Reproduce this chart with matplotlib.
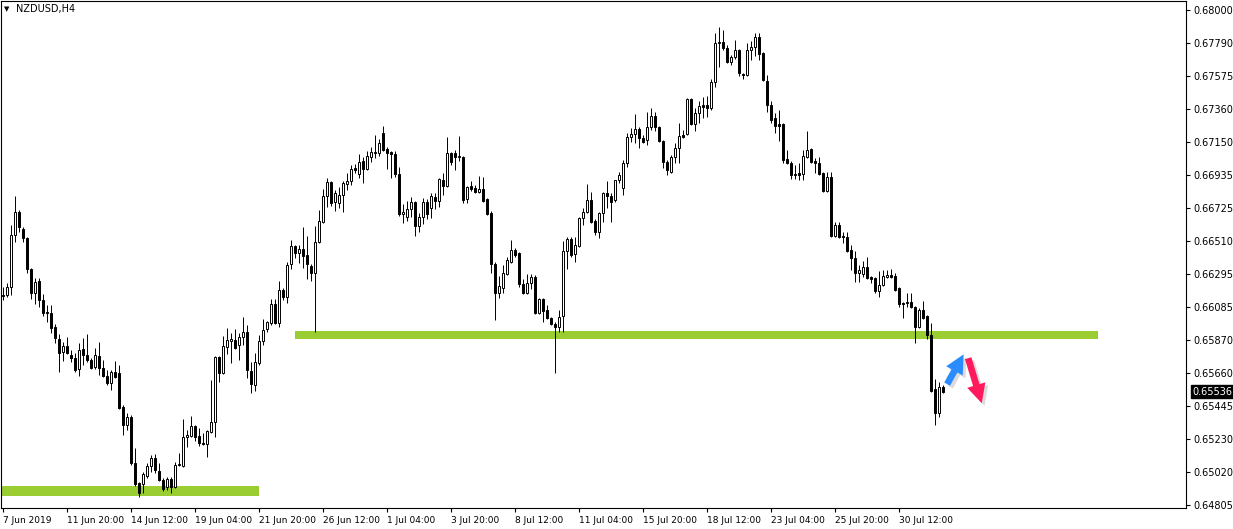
import matplotlib
matplotlib.use("Agg")
import matplotlib.pyplot as plt
import matplotlib.patheffects as pe
from matplotlib.patches import Rectangle, FancyArrowPatch
import numpy as np

symbol = "NZDUSD,H4"

opens = [
    0.66161, 0.66161, 0.66212, 0.66548, 0.66696, 0.66587, 0.66528, 0.66328, 0.66174, 0.66251,
    0.66128, 0.66051, 0.66044, 0.65954, 0.65877, 0.65793, 0.65831, 0.65773, 0.65754, 0.65683,
    0.65812, 0.65773, 0.65741, 0.65696, 0.65767, 0.65689, 0.65638, 0.65593, 0.65664, 0.65657,
    0.65438, 0.65322, 0.65373, 0.65076, 0.64947, 0.64941, 0.64992, 0.65057, 0.65109, 0.65025,
    0.64967, 0.64921, 0.64973, 0.64921, 0.65063, 0.65057, 0.65244, 0.65251, 0.65315, 0.65251,
    0.65205, 0.65199, 0.65276, 0.65341, 0.65760, 0.65657, 0.65825, 0.65864, 0.65870, 0.65838,
    0.65890, 0.65922, 0.65670, 0.65580, 0.65722, 0.65864, 0.65941, 0.65980, 0.66103, 0.65980,
    0.66193, 0.66148, 0.66361, 0.66477, 0.66432, 0.66457, 0.66419, 0.66348, 0.66303, 0.66503,
    0.66632, 0.66800, 0.66890, 0.66761, 0.66754, 0.66806, 0.66877, 0.66896, 0.66980, 0.66942,
    0.67025, 0.66974, 0.67051, 0.67077, 0.67077, 0.67206, 0.67103, 0.67084, 0.67071, 0.66942,
    0.66683, 0.66664, 0.66716, 0.66761, 0.66606, 0.66664, 0.66761, 0.66722, 0.66793, 0.66767,
    0.66903, 0.66864, 0.67077, 0.67077, 0.67051, 0.67051, 0.66780, 0.66864, 0.66851, 0.66825,
    0.66845, 0.66780, 0.66690, 0.66361, 0.66174, 0.66206, 0.66296, 0.66374, 0.66451, 0.66432,
    0.66232, 0.66174, 0.66238, 0.66277, 0.66044, 0.66135, 0.66064, 0.66012, 0.65973, 0.65954,
    0.66025, 0.66445, 0.66522, 0.66425, 0.66477, 0.66658, 0.66696, 0.66774, 0.66638, 0.66567,
    0.66690, 0.66819, 0.66800, 0.66774, 0.66903, 0.66851, 0.67013, 0.67180, 0.67200, 0.67232,
    0.67174, 0.67161, 0.67245, 0.67316, 0.67245, 0.67155, 0.67019, 0.66954, 0.67051, 0.67109,
    0.67193, 0.67200, 0.67426, 0.67264, 0.67335, 0.67387, 0.67387, 0.67368, 0.67535, 0.67787,
    0.67793, 0.67755, 0.67664, 0.67697, 0.67742, 0.67587, 0.67580, 0.67742, 0.67761, 0.67826,
    0.67722, 0.67542, 0.67387, 0.67303, 0.67264, 0.67264, 0.67038, 0.67013, 0.66942, 0.66948,
    0.66942, 0.67051, 0.67103, 0.67025, 0.67013, 0.66948, 0.66832, 0.66922, 0.66541, 0.66612,
    0.66541, 0.66535, 0.66451, 0.66399, 0.66303, 0.66296, 0.66341, 0.66277, 0.66270, 0.66186,
    0.66225, 0.66277, 0.66290, 0.66283, 0.66206, 0.66109, 0.66115, 0.66115, 0.66083, 0.65954,
    0.66064, 0.66025, 0.65902, 0.65554, 0.65399, 0.65567,
]

highs = [
    0.66212, 0.66238, 0.66612, 0.66800, 0.66709, 0.66599, 0.66535, 0.66335, 0.66270, 0.66270,
    0.66167, 0.66096, 0.66096, 0.65973, 0.65909, 0.65857, 0.65890, 0.65806, 0.65786, 0.65851,
    0.65883, 0.65909, 0.65754, 0.65818, 0.65857, 0.65741, 0.65677, 0.65677, 0.65735, 0.65709,
    0.65451, 0.65399, 0.65386, 0.65173, 0.64954, 0.65018, 0.65076, 0.65128, 0.65134, 0.65076,
    0.64979, 0.64986, 0.64986, 0.65083, 0.65141, 0.65360, 0.65289, 0.65380, 0.65322, 0.65302,
    0.65270, 0.65289, 0.65612, 0.65767, 0.65767, 0.65896, 0.65948, 0.65915, 0.65941, 0.65915,
    0.66019, 0.65967, 0.65728, 0.65786, 0.65902, 0.66006, 0.65993, 0.66135, 0.66135, 0.66251,
    0.66206, 0.66374, 0.66516, 0.66483, 0.66483, 0.66599, 0.66541, 0.66361, 0.66606, 0.66709,
    0.66845, 0.66916, 0.66896, 0.66838, 0.66858, 0.66896, 0.66948, 0.67000, 0.67006, 0.67071,
    0.67051, 0.67090, 0.67116, 0.67193, 0.67167, 0.67251, 0.67116, 0.67090, 0.67090, 0.66987,
    0.66748, 0.66767, 0.66793, 0.66767, 0.66690, 0.66787, 0.66780, 0.66819, 0.66819, 0.66916,
    0.66948, 0.67180, 0.67084, 0.67096, 0.67187, 0.67058, 0.66864, 0.66896, 0.66871, 0.66929,
    0.66922, 0.66787, 0.66703, 0.66374, 0.66283, 0.66354, 0.66406, 0.66516, 0.66464, 0.66438,
    0.66264, 0.66296, 0.66296, 0.66290, 0.66141, 0.66141, 0.66096, 0.66019, 0.65986, 0.66064,
    0.66509, 0.66535, 0.66535, 0.66535, 0.66664, 0.66722, 0.66877, 0.66825, 0.66651, 0.66696,
    0.66825, 0.66896, 0.66819, 0.66903, 0.66954, 0.67032, 0.67206, 0.67238, 0.67329, 0.67245,
    0.67193, 0.67342, 0.67368, 0.67342, 0.67251, 0.67161, 0.67032, 0.67064, 0.67142, 0.67271,
    0.67226, 0.67432, 0.67432, 0.67368, 0.67413, 0.67438, 0.67445, 0.67555, 0.67852, 0.67890,
    0.67871, 0.67774, 0.67710, 0.67806, 0.67748, 0.67593, 0.67787, 0.67800, 0.67852, 0.67852,
    0.67729, 0.67580, 0.67413, 0.67335, 0.67355, 0.67271, 0.67096, 0.67025, 0.67000, 0.67013,
    0.67096, 0.67219, 0.67109, 0.67045, 0.67051, 0.66954, 0.66954, 0.66954, 0.66632, 0.66632,
    0.66567, 0.66567, 0.66483, 0.66445, 0.66354, 0.66380, 0.66406, 0.66283, 0.66277, 0.66315,
    0.66322, 0.66322, 0.66328, 0.66303, 0.66212, 0.66115, 0.66174, 0.66174, 0.66090, 0.66077,
    0.66122, 0.66032, 0.65980, 0.65618, 0.65599, 0.65580,
]

lows = [
    0.66128, 0.66148, 0.66161, 0.66503, 0.66567, 0.66503, 0.66303, 0.66135, 0.66103, 0.66083,
    0.66025, 0.65986, 0.65915, 0.65851, 0.65664, 0.65735, 0.65780, 0.65728, 0.65664, 0.65638,
    0.65709, 0.65728, 0.65683, 0.65683, 0.65644, 0.65631, 0.65580, 0.65547, 0.65625, 0.65425,
    0.65257, 0.65289, 0.65063, 0.64928, 0.64857, 0.64883, 0.64979, 0.65018, 0.65012, 0.64960,
    0.64896, 0.64902, 0.64883, 0.64915, 0.65057, 0.65051, 0.65180, 0.65244, 0.65218, 0.65186,
    0.65192, 0.65115, 0.65270, 0.65244, 0.65599, 0.65651, 0.65780, 0.65722, 0.65812, 0.65741,
    0.65838, 0.65625, 0.65528, 0.65541, 0.65709, 0.65838, 0.65922, 0.65967, 0.65973, 0.65954,
    0.66128, 0.66109, 0.66328, 0.66399, 0.66367, 0.66335, 0.66264, 0.66251, 0.65922, 0.66496,
    0.66625, 0.66729, 0.66735, 0.66703, 0.66722, 0.66696, 0.66838, 0.66871, 0.66948, 0.66916,
    0.66883, 0.66967, 0.67019, 0.67045, 0.67058, 0.67090, 0.66974, 0.66916, 0.66922, 0.66670,
    0.66625, 0.66638, 0.66664, 0.66541, 0.66567, 0.66619, 0.66651, 0.66658, 0.66716, 0.66729,
    0.66806, 0.66858, 0.67000, 0.66967, 0.67025, 0.66754, 0.66754, 0.66832, 0.66819, 0.66819,
    0.66761, 0.66677, 0.66303, 0.65999, 0.66141, 0.66174, 0.66290, 0.66367, 0.66406, 0.66212,
    0.66167, 0.66167, 0.66199, 0.66038, 0.66038, 0.65986, 0.66006, 0.65967, 0.65657, 0.65922,
    0.65922, 0.66328, 0.66406, 0.66374, 0.66470, 0.66612, 0.66690, 0.66625, 0.66548, 0.66528,
    0.66632, 0.66722, 0.66632, 0.66761, 0.66883, 0.66806, 0.66987, 0.67148, 0.67142, 0.67109,
    0.67142, 0.67129, 0.67226, 0.67219, 0.67148, 0.66980, 0.66935, 0.66948, 0.67013, 0.67013,
    0.67174, 0.67193, 0.67258, 0.67219, 0.67271, 0.67303, 0.67309, 0.67355, 0.67503, 0.67632,
    0.67742, 0.67658, 0.67645, 0.67684, 0.67574, 0.67555, 0.67574, 0.67677, 0.67703, 0.67677,
    0.67542, 0.67342, 0.67271, 0.67206, 0.67155, 0.67013, 0.67006, 0.66909, 0.66909, 0.66903,
    0.66903, 0.67045, 0.67013, 0.66948, 0.66935, 0.66825, 0.66825, 0.66535, 0.66535, 0.66528,
    0.66496, 0.66438, 0.66322, 0.66245, 0.66245, 0.66277, 0.66264, 0.66238, 0.66174, 0.66148,
    0.66219, 0.66270, 0.66270, 0.66186, 0.66083, 0.66012, 0.66083, 0.66077, 0.65851, 0.65948,
    0.66006, 0.65877, 0.65535, 0.65322, 0.65373, 0.65528,
]

closes = [
    0.66154, 0.66212, 0.66548, 0.66696, 0.66599, 0.66528, 0.66328, 0.66174, 0.66245, 0.66128,
    0.66044, 0.66044, 0.65948, 0.65883, 0.65786, 0.65831, 0.65786, 0.65754, 0.65677, 0.65806,
    0.65773, 0.65741, 0.65689, 0.65773, 0.65689, 0.65638, 0.65593, 0.65664, 0.65631, 0.65431,
    0.65322, 0.65373, 0.65076, 0.64941, 0.64883, 0.65005, 0.65057, 0.65109, 0.65031, 0.64967,
    0.64909, 0.64973, 0.64921, 0.65063, 0.65070, 0.65244, 0.65257, 0.65315, 0.65244, 0.65205,
    0.65199, 0.65283, 0.65341, 0.65760, 0.65657, 0.65831, 0.65870, 0.65877, 0.65818, 0.65890,
    0.65922, 0.65677, 0.65586, 0.65728, 0.65864, 0.65935, 0.65986, 0.66103, 0.65980, 0.66193,
    0.66148, 0.66354, 0.66477, 0.66432, 0.66457, 0.66412, 0.66361, 0.66303, 0.66503, 0.66638,
    0.66800, 0.66890, 0.66754, 0.66819, 0.66806, 0.66883, 0.66896, 0.66974, 0.66967, 0.67019,
    0.66974, 0.67058, 0.67084, 0.67084, 0.67142, 0.67096, 0.67077, 0.67071, 0.66942, 0.66683,
    0.66696, 0.66716, 0.66761, 0.66606, 0.66664, 0.66761, 0.66683, 0.66800, 0.66767, 0.66909,
    0.66864, 0.67077, 0.67019, 0.67051, 0.67058, 0.66774, 0.66858, 0.66845, 0.66825, 0.66845,
    0.66767, 0.66683, 0.66361, 0.66174, 0.66219, 0.66303, 0.66387, 0.66451, 0.66419, 0.66232,
    0.66174, 0.66238, 0.66277, 0.66044, 0.66135, 0.66057, 0.66012, 0.65973, 0.65954, 0.66019,
    0.66445, 0.66522, 0.66419, 0.66483, 0.66658, 0.66696, 0.66774, 0.66632, 0.66567, 0.66690,
    0.66819, 0.66800, 0.66761, 0.66903, 0.66935, 0.67013, 0.67180, 0.67200, 0.67232, 0.67174,
    0.67148, 0.67245, 0.67316, 0.67245, 0.67155, 0.67019, 0.66967, 0.67051, 0.67109, 0.67187,
    0.67180, 0.67426, 0.67264, 0.67335, 0.67380, 0.67374, 0.67368, 0.67535, 0.67787, 0.67793,
    0.67755, 0.67664, 0.67697, 0.67742, 0.67593, 0.67580, 0.67742, 0.67761, 0.67826, 0.67716,
    0.67548, 0.67387, 0.67290, 0.67251, 0.67251, 0.67032, 0.67013, 0.66935, 0.66935, 0.66935,
    0.67058, 0.67096, 0.67019, 0.67013, 0.66942, 0.66832, 0.66922, 0.66541, 0.66612, 0.66535,
    0.66535, 0.66445, 0.66399, 0.66303, 0.66322, 0.66341, 0.66270, 0.66264, 0.66186, 0.66225,
    0.66283, 0.66290, 0.66277, 0.66193, 0.66103, 0.66103, 0.66109, 0.66083, 0.65954, 0.66064,
    0.66012, 0.65902, 0.65541, 0.65399, 0.65567, 0.65536,
]

price_ticks = [0.68000, 0.67790, 0.67575, 0.67360, 0.67150, 0.66935, 0.66725, 0.66510,
               0.66295, 0.66085, 0.65870, 0.65660, 0.65445, 0.65230, 0.65020, 0.64805]
date_ticks = [0, 16, 32, 48, 64, 80, 96, 112, 128, 144, 160, 176, 192, 208, 224]
date_labels = ['7 Jun 2019', '11 Jun 20:00', '14 Jun 12:00', '19 Jun 04:00', '21 Jun 20:00',
               '26 Jun 12:00', '1 Jul 04:00', '3 Jul 20:00', '8 Jul 12:00', '11 Jul 04:00',
               '15 Jul 20:00', '18 Jul 12:00', '23 Jul 04:00', '25 Jul 20:00', '30 Jul 12:00']

# support / resistance zones drawn on the chart: (low price, high price), (first bar, last bar)
zone_prices = [(0.65877, 0.65928), (0.64863, 0.64928)]
zone_bars = [(72.9, 273.9), (-0.6, 63.9)]

# scenario arrows: (bar, price) tail -> head
up_arrow = [(235.8, 0.65570), (240.6, 0.65793)]
down_arrow = [(241.2, 0.65770), (245.0, 0.65445)]

last_price = closes[-1]

W, H = 1233, 529
fig = plt.figure(figsize=(W / 100, H / 100), dpi=100)
ax = fig.add_axes([1 / W, 21 / H, 1185 / W, 507 / H])

x = np.arange(len(opens))
o = np.array(opens)
c = np.array(closes)
up = c >= o

# zones
for (p0, p1), (b0, b1) in zip(zone_prices, zone_bars):
    ax.add_patch(Rectangle((b0, p0), b1 - b0, p1 - p0, facecolor='#9acd32',
                           edgecolor='none', zorder=1))

# candles
ax.vlines(x, lows, highs, color='black', linewidth=0.7, zorder=2)
body_lo = np.minimum(o, c)
body_h = np.abs(c - o)
ax.bar(x, body_h, bottom=body_lo, width=0.5,
       color=np.where(up, 'white', 'black'), edgecolor='black',
       linewidth=0.7, zorder=3)

# arrows
shadow = [pe.SimplePatchShadow(offset=(2, -2), shadow_rgbFace='#999999', alpha=0.35), pe.Normal()]
for (tail, head), col in [(up_arrow, '#2a8cff'), (down_arrow, '#ff1a5e')]:
    arr = FancyArrowPatch(tail, head, arrowstyle='simple,head_width=0.85,head_length=0.85,tail_width=0.3',
                          mutation_scale=16, facecolor=col, edgecolor='none', zorder=5)
    arr.set_path_effects(shadow)
    ax.add_patch(arr)

ax.set_xlim(-0.575, 295.9)
ax.set_ylim(0.647857, 0.680581)

ax.yaxis.tick_right()
ax.set_yticks(price_ticks)
ax.set_yticklabels([f'{p:.5f}' for p in price_ticks])
ax.set_xticks(date_ticks)
ax.set_xticklabels(date_labels)
for lab in ax.get_xticklabels():
    lab.set_horizontalalignment('left')
ax.tick_params(axis='both', direction='out', length=3, width=0.8, labelsize=7,
               colors='black', pad=2)
ax.tick_params(axis='x', pad=3, labelsize=6.5)
for s in ax.spines.values():
    s.set_linewidth(0.8)
    s.set_color('black')

# current price tag
ax.annotate(f'{last_price:.5f}', xy=(1, last_price), xycoords=('axes fraction', 'data'),
            xytext=(4.5, 0), textcoords='offset points', va='center', ha='left',
            fontsize=7, color='white',
            bbox=dict(boxstyle='square,pad=0.15', facecolor='black', edgecolor='black'))

# symbol caption
fig.text(7 / W, 1 - 9 / H, '\u25bc', fontsize=5, va='center', ha='center')
fig.text(16 / W, 1 - 9 / H, symbol, fontsize=7, va='center', ha='left')

fig.savefig('out.png', dpi=100)
